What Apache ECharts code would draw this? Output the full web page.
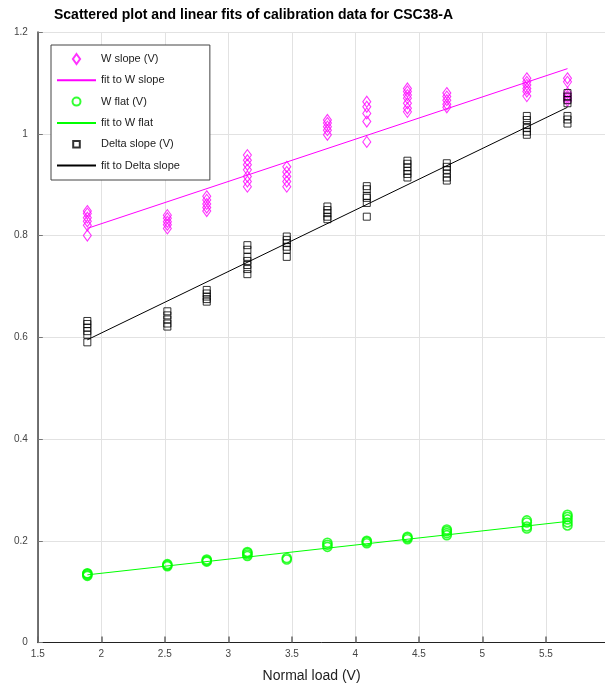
<!DOCTYPE html>
<html>
<head>
<meta charset="utf-8">
<script src="https://cdn.jsdelivr.net/npm/echarts@6/dist/echarts.min.js"></script>
<style>
html, body { margin: 0; padding: 0; background: #fff; }
#chart { width: 605px; height: 688px; }
</style>
</head>
<body>
<div id="chart"></div>
<script>
// Normal load settings (V) at which the chamber was calibrated
const loads = [1.89, 2.52, 2.83, 3.15, 3.46, 3.78, 4.09, 4.41, 4.72, 5.35, 5.67];

// Measured responses, one list per load setting
const wSlope = [
  [0.848, 0.843, 0.835, 0.828, 0.820, 0.800],
  [0.840, 0.834, 0.827, 0.821, 0.814],
  [0.877, 0.870, 0.862, 0.855, 0.848],
  [0.958, 0.948, 0.939, 0.929, 0.916, 0.906, 0.896],
  [0.935, 0.925, 0.916, 0.906, 0.896],
  [1.027, 1.021, 1.014, 1.007, 0.998],
  [1.063, 1.053, 1.040, 1.024, 0.984],
  [1.089, 1.083, 1.076, 1.070, 1.060, 1.050, 1.043],
  [1.080, 1.073, 1.066, 1.058, 1.052],
  [1.109, 1.102, 1.096, 1.089, 1.083, 1.074],
  [1.109, 1.102, 1.080, 1.074, 1.070, 1.065]
];
const wFlat = [
  [0.131, 0.133, 0.135, 0.136],
  [0.150, 0.152, 0.154],
  [0.159, 0.161, 0.163],
  [0.170, 0.173, 0.176, 0.178],
  [0.163, 0.166],
  [0.188, 0.192, 0.196],
  [0.195, 0.198, 0.200],
  [0.203, 0.206, 0.208],
  [0.211, 0.215, 0.219, 0.222],
  [0.224, 0.228, 0.236, 0.240],
  [0.230, 0.236, 0.242, 0.247, 0.251]
];
const deltaSlope = [
  [0.632, 0.626, 0.619, 0.612, 0.605, 0.590],
  [0.651, 0.643, 0.635, 0.627, 0.621],
  [0.693, 0.686, 0.680, 0.675, 0.670],
  [0.781, 0.772, 0.758, 0.750, 0.742, 0.734, 0.724],
  [0.798, 0.791, 0.785, 0.778, 0.772, 0.758],
  [0.857, 0.850, 0.844, 0.837, 0.832],
  [0.897, 0.891, 0.878, 0.874, 0.864, 0.837],
  [0.947, 0.941, 0.934, 0.927, 0.921, 0.914],
  [0.942, 0.935, 0.929, 0.922, 0.914, 0.908],
  [1.035, 1.027, 1.017, 1.011, 1.004, 0.998],
  [1.080, 1.073, 1.066, 1.060, 1.035, 1.028, 1.020]
];

// Linear fits, evaluated at the first and last load
const fitX = [1.89, 5.67];
const fitWSlope = [0.814, 1.128];
const fitWFlat = [0.133, 0.238];
const fitDeltaSlope = [0.595, 1.052];

const xTicks = [1.5, 2, 2.5, 3, 3.5, 4, 4.5, 5, 5.5, 6];
const yTicks = [0, 0.2, 0.4, 0.6, 0.8, 1, 1.2];

const FONT = 'Liberation Sans, Arial, Helvetica, sans-serif';

// Legend glyphs: the leading moves only set the icon box so the mark keeps its size
const ICON_DIAMOND = 'path://M0,0L3.6,5L0,10L-3.6,5Z';
const ICON_CIRCLE = 'path://M0,0M10,10M9,5A4,4,0,1,1,9,4.99Z';
const ICON_SQUARE = 'path://M0,0M10,10M1.7,1.7L8.3,1.7L8.3,8.3L1.7,8.3Z';

function pairs(xs, groups) {
  const out = [];
  groups.forEach((g, i) => g.forEach(v => out.push([xs[i], v])));
  return out;
}
function line(xs, ys) {
  return xs.map((x, i) => [x, ys[i]]);
}

const chart = echarts.init(document.getElementById('chart'), null, { renderer: 'canvas' });

chart.setOption({
  animation: false,
  backgroundColor: '#fff',
  title: {
    text: 'Scattered plot and linear fits of calibration data for CSC38-A',
    left: 54,
    top: 8,
    padding: 0,
    textStyle: { fontFamily: FONT, fontSize: 14, fontWeight: 'bold', color: '#000' }
  },
  legend: {
    orient: 'vertical',
    left: 51,
    top: 45,
    itemWidth: 39,
    itemHeight: 10,
    itemGap: 9.8,
    padding: [8, 30, 9, 5],
    backgroundColor: '#fff',
    borderColor: '#444',
    borderWidth: 1,
    selectedMode: false,
    textStyle: { fontFamily: FONT, fontSize: 11, color: '#222' },
    data: [
      { name: 'W slope (V)', icon: ICON_DIAMOND },
      { name: 'fit to W slope' },
      { name: 'W flat (V)', icon: ICON_CIRCLE },
      { name: 'fit to W flat' },
      { name: 'Delta slope (V)', icon: ICON_SQUARE },
      { name: 'fit to Delta slope' }
    ]
  },
  grid: { left: 37.8, right: -4.4, top: 32, bottom: 45.5, outerBoundsMode: 'none', containLabel: false },
  xAxis: {
    type: 'value',
    min: xTicks[0],
    max: xTicks[xTicks.length - 1],
    interval: 0.5,
    name: 'Normal load (V)',
    nameLocation: 'middle',
    nameGap: 27,
    nameTextStyle: { fontFamily: FONT, fontSize: 14, color: '#222', padding: [0, 24, 0, 0] },
    axisLine: { show: true, lineStyle: { color: '#222', width: 1 } },
    axisTick: { show: true, inside: true, length: 6, lineStyle: { color: '#666', width: 1.5 } },
    axisLabel: { fontFamily: FONT, fontSize: 10, color: '#444', margin: 7 },
    splitLine: { show: true, lineStyle: { color: '#e2e2e2', width: 1 } }
  },
  yAxis: {
    type: 'value',
    min: yTicks[0],
    max: yTicks[yTicks.length - 1],
    interval: 0.2,
    axisLine: { show: true, lineStyle: { color: '#444', width: 1.5 } },
    axisTick: { show: true, inside: true, length: 5, lineStyle: { color: '#777', width: 1 } },
    axisLabel: { fontFamily: FONT, fontSize: 10, color: '#444', margin: 10 },
    splitLine: { show: true, lineStyle: { color: '#e2e2e2', width: 1 } }
  },
  series: [
    {
      name: 'W slope (V)',
      type: 'scatter',
      symbol: 'diamond',
      symbolSize: [8, 11],
      itemStyle: { color: 'rgba(0,0,0,0)', borderColor: '#ff00ff', borderWidth: 1.1 },
      data: pairs(loads, wSlope),
      z: 3
    },
    {
      name: 'fit to W slope',
      type: 'line',
      symbol: 'none',
      lineStyle: { color: '#ff00ff', width: 1 },
      itemStyle: { color: 'rgba(0,0,0,0)', borderWidth: 0 },
      data: line(fitX, fitWSlope),
      z: 2
    },
    {
      name: 'W flat (V)',
      type: 'scatter',
      symbol: 'circle',
      symbolSize: 9,
      itemStyle: { color: 'rgba(0,0,0,0)', borderColor: '#00ff00', borderWidth: 1.6 },
      data: pairs(loads, wFlat),
      z: 3
    },
    {
      name: 'fit to W flat',
      type: 'line',
      symbol: 'none',
      lineStyle: { color: '#00ff00', width: 1 },
      itemStyle: { color: 'rgba(0,0,0,0)', borderWidth: 0 },
      data: line(fitX, fitWFlat),
      z: 2
    },
    {
      name: 'Delta slope (V)',
      type: 'scatter',
      symbol: 'rect',
      symbolSize: 7,
      itemStyle: { color: 'rgba(0,0,0,0)', borderColor: '#000', borderWidth: 1 },
      data: pairs(loads, deltaSlope),
      z: 3
    },
    {
      name: 'fit to Delta slope',
      type: 'line',
      symbol: 'none',
      lineStyle: { color: '#000', width: 1 },
      itemStyle: { color: 'rgba(0,0,0,0)', borderWidth: 0 },
      data: line(fitX, fitDeltaSlope),
      z: 2
    }
  ]
});
</script>
</body>
</html>
